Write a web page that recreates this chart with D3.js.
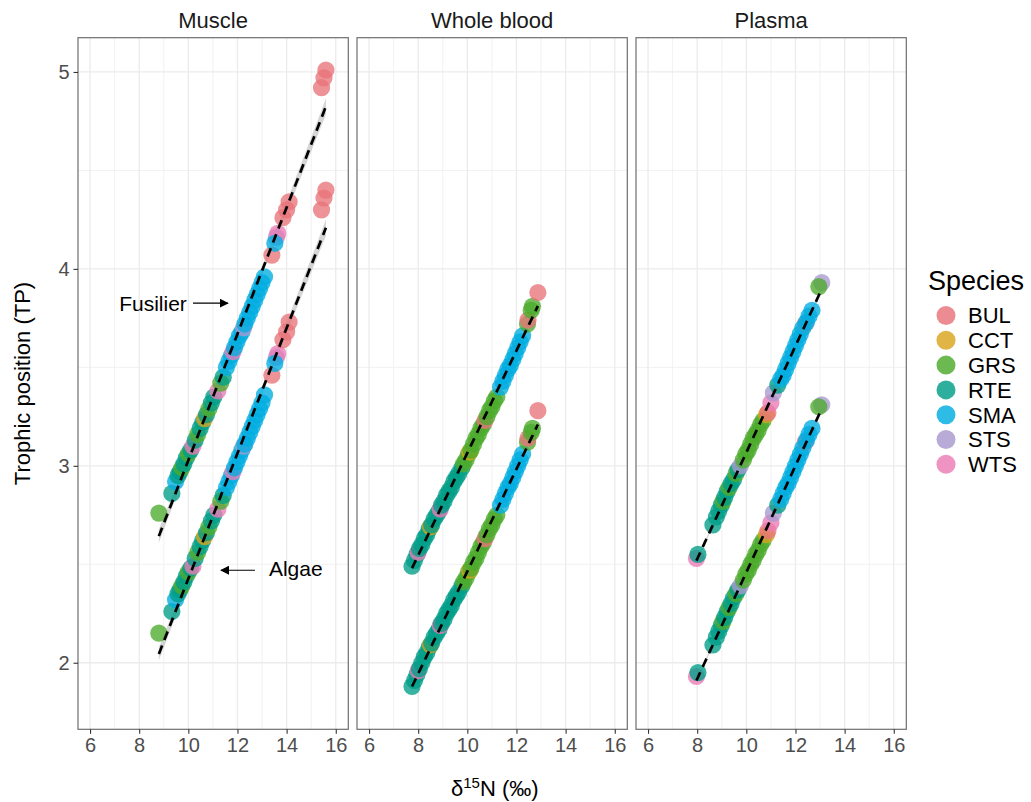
<!DOCTYPE html>
<html>
<head>
<meta charset="utf-8">
<script src="https://cdn.jsdelivr.net/npm/d3@7"></script>
<style>
  body { margin: 0; background: #fff; }
  svg { display: block; font-family: "Liberation Sans", Arial, sans-serif; }
</style>
</head>
<body>
<svg id="chart" width="1031" height="802"></svg>
<script>
// ---- categories ----
const species = ["BUL", "CCT", "GRS", "RTE", "SMA", "STS", "WTS"];
const speciesColors = ["#E8737A", "#D9A31C", "#4CAA2B", "#009E88", "#00ADE0", "#A998D0", "#EA7BB5"];
const tissues = ["Muscle", "Whole blood", "Plasma"];
const xTicks = [6, 8, 10, 12, 14, 16];
const yTicks = [2, 3, 4, 5];

// ---- Muscle: d15N, TP with fusilier baseline, TP with algae baseline ----
const muscleSp  = ["GRS","RTE","SMA","RTE","RTE","GRS","RTE","RTE","GRS","RTE","WTS","RTE","GRS","RTE","RTE","CCT","RTE","GRS","RTE","RTE","WTS","GRS","RTE","SMA","SMA","SMA","WTS","SMA","SMA","SMA","SMA","STS","SMA","SMA","SMA","SMA","SMA","SMA","SMA","SMA","SMA","BUL","STS","WTS","SMA","BUL","BUL","BUL","BUL","BUL","BUL"];
const muscleN   = [8.80,9.33,9.48,9.58,9.66,9.74,9.82,9.92,10.00,10.10,10.19,10.28,10.38,10.48,10.58,10.66,10.74,10.84,10.94,11.04,11.20,11.32,11.42,11.55,11.65,11.75,11.82,11.88,11.98,12.08,12.18,12.25,12.30,12.40,12.50,12.60,12.70,12.80,12.90,13.00,13.10,13.40,13.58,13.64,13.52,13.85,14.00,14.10,15.42,15.52,15.60];
const muscleFus = [2.76,2.86,2.92,2.95,2.97,2.99,3.01,3.04,3.06,3.08,3.10,3.13,3.16,3.19,3.22,3.24,3.26,3.29,3.32,3.35,3.38,3.42,3.45,3.50,3.53,3.56,3.58,3.60,3.63,3.66,3.68,3.70,3.72,3.75,3.78,3.81,3.84,3.87,3.90,3.93,3.96,4.07,4.16,4.18,4.13,4.26,4.30,4.34,4.92,4.97,5.01];
const muscleAlg = [2.15,2.26,2.32,2.35,2.37,2.39,2.41,2.44,2.46,2.48,2.49,2.53,2.56,2.59,2.62,2.64,2.66,2.69,2.72,2.75,2.78,2.82,2.85,2.89,2.92,2.95,2.97,2.99,3.02,3.05,3.08,3.10,3.11,3.14,3.17,3.20,3.23,3.26,3.29,3.32,3.36,3.46,3.55,3.57,3.52,3.64,3.68,3.73,4.30,4.36,4.40];

// ---- Whole blood ----
const bloodSp  = ["RTE","RTE","RTE","WTS","RTE","RTE","RTE","RTE","RTE","CCT","RTE","RTE","RTE","RTE","WTS","RTE","RTE","RTE","RTE","RTE","RTE","RTE","RTE","RTE","GRS","GRS","GRS","CCT","GRS","GRS","GRS","GRS","GRS","GRS","BUL","GRS","GRS","GRS","GRS","GRS","SMA","SMA","SMA","SMA","SMA","SMA","SMA","SMA","SMA","SMA","GRS","BUL","GRS","GRS","BUL"];
const bloodN   = [7.75,7.85,7.95,8.00,8.05,8.15,8.25,8.35,8.45,8.50,8.55,8.65,8.75,8.85,8.90,8.95,9.05,9.15,9.25,9.35,9.45,9.55,9.65,9.78,9.85,9.95,10.05,10.10,10.15,10.25,10.35,10.45,10.55,10.65,10.72,10.80,10.90,11.00,11.10,11.20,11.35,11.45,11.55,11.65,11.75,11.85,11.95,12.05,12.15,12.25,12.45,12.47,12.60,12.65,12.87];
const bloodFus = [2.49,2.52,2.55,2.56,2.58,2.60,2.63,2.65,2.68,2.69,2.70,2.73,2.75,2.77,2.78,2.80,2.82,2.85,2.87,2.89,2.92,2.94,2.96,2.99,3.01,3.03,3.06,3.07,3.08,3.11,3.14,3.16,3.19,3.21,3.23,3.25,3.28,3.30,3.33,3.35,3.40,3.43,3.46,3.49,3.51,3.54,3.57,3.60,3.63,3.66,3.72,3.74,3.79,3.81,3.88];
const bloodAlg = [1.88,1.91,1.94,1.96,1.97,2.00,2.03,2.05,2.08,2.09,2.10,2.13,2.15,2.17,2.19,2.20,2.22,2.25,2.27,2.29,2.32,2.34,2.36,2.39,2.41,2.43,2.46,2.47,2.48,2.51,2.53,2.56,2.59,2.61,2.63,2.65,2.68,2.70,2.73,2.75,2.80,2.83,2.86,2.89,2.91,2.94,2.97,3.00,3.03,3.06,3.12,3.14,3.17,3.19,3.28];

// ---- Plasma ----
const plasmaSp  = ["WTS","RTE","RTE","RTE","RTE","RTE","GRS","RTE","RTE","GRS","RTE","RTE","GRS","RTE","STS","GRS","GRS","GRS","GRS","GRS","GRS","GRS","GRS","GRS","CCT","BUL","WTS","STS","RTE","SMA","SMA","SMA","SMA","SMA","SMA","SMA","SMA","SMA","BUL","SMA","SMA","SMA","SMA","STS","GRS"];
const plasmaN   = [7.97,8.03,8.64,8.78,8.88,8.98,9.05,9.12,9.22,9.30,9.38,9.48,9.58,9.66,9.76,9.88,9.98,10.08,10.18,10.28,10.38,10.48,10.58,10.68,10.82,10.88,11.00,11.10,11.28,11.40,11.50,11.60,11.70,11.80,11.90,12.00,12.10,12.20,12.40,12.30,12.45,12.55,12.67,13.07,12.95];
const plasmaFus = [2.53,2.55,2.70,2.74,2.77,2.80,2.82,2.84,2.87,2.89,2.91,2.93,2.96,2.98,3.00,3.03,3.06,3.08,3.11,3.14,3.16,3.18,3.21,3.23,3.26,3.27,3.32,3.37,3.41,3.44,3.46,3.49,3.52,3.55,3.58,3.61,3.64,3.67,3.72,3.70,3.73,3.76,3.79,3.93,3.91];
const plasmaAlg = [1.93,1.95,2.09,2.13,2.16,2.19,2.21,2.23,2.26,2.28,2.30,2.33,2.35,2.37,2.39,2.42,2.45,2.47,2.50,2.52,2.55,2.57,2.60,2.62,2.65,2.67,2.71,2.76,2.80,2.83,2.86,2.89,2.91,2.94,2.97,3.00,3.03,3.06,3.12,3.09,3.13,3.16,3.19,3.31,3.30];

// ---- layout ----
const svg = d3.select("#chart");
const panelLeft = [78, 357, 636];
const panelW = 270.3;
const panelTop = 37.7, panelBottom = 729.3;
const fontFam = '"Liberation Sans", Arial, sans-serif';

const color = d3.scaleOrdinal().domain(species).range(speciesColors);
const y = d3.scaleLinear().domain([1.662, 5.174]).range([panelBottom, panelTop]);

const panelData = [
  { sp: muscleSp, n: muscleN, fus: muscleFus, alg: muscleAlg },
  { sp: bloodSp,  n: bloodN,  fus: bloodFus,  alg: bloodAlg },
  { sp: plasmaSp, n: plasmaN, fus: plasmaFus, alg: plasmaAlg }
];

// ordinary least squares fit with 95% confidence band
function fitLm(xs, ys) {
  const n = xs.length;
  const mx = d3.mean(xs), my = d3.mean(ys);
  let sxx = 0, sxy = 0;
  xs.forEach((v, i) => { sxx += (v - mx) ** 2; sxy += (v - mx) * (ys[i] - my); });
  const b = sxy / sxx, a = my - b * mx;
  let sse = 0;
  xs.forEach((v, i) => { sse += (ys[i] - a - b * v) ** 2; });
  const s = Math.sqrt(sse / (n - 2));
  const t = 2.01;
  const [lo, hi] = d3.extent(xs);
  return d3.range(81).map(i => {
    const xv = lo + (hi - lo) * i / 80;
    const fit = a + b * xv;
    const se = s * Math.sqrt(1 / n + (xv - mx) ** 2 / sxx);
    return { x: xv, y: fit, lo: fit - t * se, hi: fit + t * se };
  });
}

const xScales = [];

tissues.forEach((name, p) => {
  const left = panelLeft[p];
  const x = d3.scaleLinear().domain([5.51, 16.51]).range([left, left + panelW]);
  xScales.push(x);
  const g = svg.append("g");

  // gridlines
  const minorX = [7, 9, 11, 13, 15];
  const minorY = [2.5, 3.5, 4.5];
  g.selectAll(".gxm").data(minorX).join("line")
    .attr("x1", d => x(d)).attr("x2", d => x(d)).attr("y1", panelTop).attr("y2", panelBottom)
    .attr("stroke", "#EFEFEF").attr("stroke-width", 0.9);
  g.selectAll(".gym").data(minorY).join("line")
    .attr("y1", d => y(d)).attr("y2", d => y(d)).attr("x1", left).attr("x2", left + panelW)
    .attr("stroke", "#EFEFEF").attr("stroke-width", 0.9);
  g.selectAll(".gx").data(xTicks).join("line")
    .attr("x1", d => x(d)).attr("x2", d => x(d)).attr("y1", panelTop).attr("y2", panelBottom)
    .attr("stroke", "#EBEBEB").attr("stroke-width", 1.3);
  g.selectAll(".gy").data(yTicks).join("line")
    .attr("y1", d => y(d)).attr("y2", d => y(d)).attr("x1", left).attr("x2", left + panelW)
    .attr("stroke", "#EBEBEB").attr("stroke-width", 1.3);

  const d = panelData[p];
  const recs = d.n.map((v, i) => ({ n: v, fus: d.fus[i], alg: d.alg[i], sp: d.sp[i] }));

  // confidence ribbons
  const fits = [fitLm(d.n, d.fus), fitLm(d.n, d.alg)];
  const area = d3.area().x(q => x(q.x)).y0(q => y(q.lo)).y1(q => y(q.hi));
  fits.forEach(f => {
    g.append("path").datum(f).attr("d", area).attr("fill", "#999999").attr("fill-opacity", 0.4);
  });

  // points (both baselines)
  ["fus", "alg"].forEach(key => {
    g.append("g").selectAll("circle").data(recs).join("circle")
      .attr("cx", r => x(r.n)).attr("cy", r => y(r[key])).attr("r", 8.6)
      .attr("fill", r => color(r.sp)).attr("fill-opacity", 0.78);
  });

  // fitted dashed lines
  const line = d3.line().x(q => x(q.x)).y(q => y(q.y));
  fits.forEach(f => {
    g.append("path").datum(f).attr("d", line).attr("fill", "none")
      .attr("stroke", "#000").attr("stroke-width", 2.7).attr("stroke-dasharray", "9,6");
  });

  // panel border
  g.append("rect").attr("x", left).attr("y", panelTop).attr("width", panelW).attr("height", panelBottom - panelTop)
    .attr("fill", "none").attr("stroke", "#6E6E6E").attr("stroke-width", 1.2);

  // strip label
  svg.append("text").attr("x", left + panelW / 2).attr("y", 28).attr("text-anchor", "middle")
    .attr("font-size", 22).attr("fill", "#1A1A1A").text(name);

  // x axis
  const ax = svg.append("g").attr("transform", `translate(0,${panelBottom})`)
    .call(d3.axisBottom(x).tickValues(xTicks).tickFormat(d3.format("d")).tickSize(4.5).tickPadding(4));
  ax.select(".domain").remove();
  ax.selectAll(".tick line").attr("stroke", "#333").attr("stroke-width", 1.1);
  ax.selectAll(".tick text").attr("font-size", 20).attr("fill", "#4D4D4D").attr("font-family", fontFam);
});

// y axis on the first panel
const ay = svg.append("g").attr("transform", `translate(${panelLeft[0]},0)`)
  .call(d3.axisLeft(y).tickValues(yTicks).tickFormat(d3.format("d")).tickSize(4.5).tickPadding(4));
ay.select(".domain").remove();
ay.selectAll(".tick line").attr("stroke", "#333").attr("stroke-width", 1.1);
ay.selectAll(".tick text").attr("font-size", 20).attr("fill", "#4D4D4D").attr("font-family", fontFam);

// baseline annotations in the Muscle panel
const xm = xScales[0];
svg.append("defs").append("marker").attr("id", "arrowHead")
  .attr("viewBox", "0 0 10 10").attr("refX", 9).attr("refY", 5)
  .attr("markerWidth", 9).attr("markerHeight", 9).attr("markerUnits", "userSpaceOnUse")
  .attr("orient", "auto")
  .append("path").attr("d", "M0,0 L10,5 L0,10 Z").attr("fill", "#000");

svg.append("line").attr("x1", xm(10.19)).attr("x2", xm(11.61)).attr("y1", y(3.826)).attr("y2", y(3.826))
  .attr("stroke", "#000").attr("stroke-width", 1.1).attr("marker-end", "url(#arrowHead)");
svg.append("text").attr("x", xm(9.94)).attr("y", y(3.826)).attr("dy", "0.36em").attr("text-anchor", "end")
  .attr("font-size", 21).attr("fill", "#000").text("Fusilier");

svg.append("line").attr("x1", xm(12.71)).attr("x2", xm(11.33)).attr("y1", y(2.47)).attr("y2", y(2.47))
  .attr("stroke", "#000").attr("stroke-width", 1.1).attr("marker-end", "url(#arrowHead)");
svg.append("text").attr("x", xm(13.28)).attr("y", y(2.48)).attr("dy", "0.36em").attr("text-anchor", "start")
  .attr("font-size", 21).attr("fill", "#000").text("Algae");

// axis titles
const xt = svg.append("text").attr("x", 451).attr("y", 796).attr("font-size", 22).attr("fill", "#000");
xt.append("tspan").text("δ");
xt.append("tspan").attr("dy", -8).attr("font-size", 15).text("15");
xt.append("tspan").attr("dy", 8).text("N (‰)");

svg.append("text").attr("transform", `translate(30,${(panelTop + panelBottom) / 2}) rotate(-90)`)
  .attr("text-anchor", "middle").attr("font-size", 22).attr("fill", "#000").text("Trophic position (TP)");

// legend
const lg = svg.append("g");
lg.append("text").attr("x", 928).attr("y", 290).attr("font-size", 27).attr("fill", "#000").text("Species");
species.forEach((s, i) => {
  const cy = 315.5 + 24.8 * i;
  lg.append("circle").attr("cx", 946).attr("cy", cy).attr("r", 9.5)
    .attr("fill", color(s)).attr("fill-opacity", 0.82);
  lg.append("text").attr("x", 968).attr("y", cy).attr("dy", "0.36em")
    .attr("font-size", 22).attr("fill", "#000").text(s);
});
</script>
</body>
</html>
